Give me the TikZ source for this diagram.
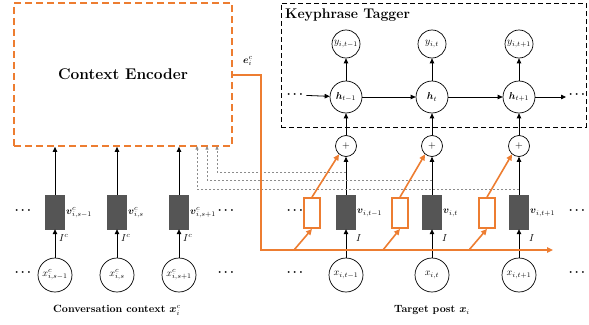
\documentclass[tikz,border=0pt]{standalone}
\usepackage{amsmath,amssymb}
\usetikzlibrary{arrows.meta}
\definecolor{ora}{RGB}{237,125,49}
\definecolor{dk}{RGB}{85,85,85}
\definecolor{gd}{RGB}{140,140,140}
\begin{document}
\begin{tikzpicture}[x=1pt,y=-1pt,
  circ/.style={circle,draw,line width=0.7pt,minimum size=28pt,inner sep=0pt,font=\normalsize},
  hcirc/.style={circ,minimum size=32pt},
  xcirc/.style={circ,minimum size=34pt},
  plus/.style={circle,draw,line width=0.7pt,minimum size=21pt,inner sep=0pt},
  vbox/.style={fill=dk,draw=dk,minimum width=19pt,minimum height=34pt,inner sep=0pt},
  obox/.style={draw=ora,line width=1.8pt,fill=white,minimum width=16pt,minimum height=30pt,inner sep=0pt},
  arr/.style={-{Triangle[length=5pt,width=4.5pt]},line width=0.8pt},
  oarr/.style={draw=ora,line width=1.6pt,-{Triangle[length=6pt,width=5.5pt]}},
  garr/.style={draw=gd,line width=0.6pt,dash pattern=on 2.5pt off 1.5pt,-{Triangle[length=3.5pt,width=3pt]}},
  dots/.style={inner sep=1pt,font=\large},
  lab/.style={anchor=west,inner sep=1pt,font=\normalsize},
]
\path[use as bounding box] (0,0) rectangle (589,324);

% Context encoder
\node[draw=ora,line width=1.8pt,dash pattern=on 7pt off 4pt,minimum width=218pt,minimum height=143pt,inner sep=0pt,font=\fontsize{15.5}{18}\selectfont\bfseries] (ce) at (123,74.5) {Context Encoder};
\node[inner sep=1pt] (el) at (248,61) {$\boldsymbol{e}_i^c$};

% Keyphrase tagger
\node[draw,line width=0.9pt,dash pattern=on 5pt off 3pt,minimum width=305pt,minimum height=124pt,inner sep=0pt] (kt) at (433.5,65) {};
\node[anchor=west,inner sep=0pt,font=\fontsize{14}{16}\selectfont\bfseries] (ktl) at (285,15) {Keyphrase Tagger};

% Right columns
\node[circ] (y1) at (346,44) {$y_{i,t-1}$};
\node[circ] (y2) at (432,44) {$y_{i,t}$};
\node[circ] (y3) at (519,44) {$y_{i,t+1}$};
\node[hcirc] (h1) at (346,97) {$\boldsymbol{h}_{t-1}$};
\node[hcirc] (h2) at (432,97) {$\boldsymbol{h}_{t}$};
\node[hcirc] (h3) at (519,97) {$\boldsymbol{h}_{t+1}$};
\node[dots] (hl) at (296,95) {$\boldsymbol{\cdots}$};
\node[dots] (hr) at (578,95) {$\boldsymbol{\cdots}$};
\coordinate (hre) at (566,97);

\node[plus] (p1) at (346,146) {$+$};
\node[plus] (p2) at (432,146) {$+$};
\node[plus] (p3) at (519,146) {$+$};

\node[vbox] (v1) at (346,212) {};
\node[vbox] (v2) at (432,212) {};
\node[vbox] (v3) at (519,212) {};
\node[obox] (o1) at (312,213) {};
\node[obox] (o2) at (400,213) {};
\node[obox] (o3) at (487,213) {};
\node[lab] at (356,213) {$\boldsymbol{v}_{i,t-1}$};
\node[lab] at (442,213) {$\boldsymbol{v}_{i,t}$};
\node[lab] at (529,213) {$\boldsymbol{v}_{i,t+1}$};
\node[lab] at (355,238) {$I$};
\node[lab] at (441,238) {$I$};
\node[lab] at (528,238) {$I$};

\node[xcirc] (x1) at (346,275) {$x_{i,t-1}$};
\node[xcirc] (x2) at (432,275) {$x_{i,t}$};
\node[xcirc] (x3) at (519,275) {$x_{i,t+1}$};

\node[dots] at (296,211) {$\boldsymbol{\cdots}$};
\node[dots] at (578,211) {$\boldsymbol{\cdots}$};
\node[dots] at (296,273) {$\boldsymbol{\cdots}$};
\node[dots] at (578,273) {$\boldsymbol{\cdots}$};

% Left columns
\node[vbox] (c1) at (55,212) {};
\node[vbox] (c2) at (117,212) {};
\node[vbox] (c3) at (179,212) {};
\node[lab] at (65,213) {$\boldsymbol{v}^c_{i,s-1}$};
\node[lab] at (127,213) {$\boldsymbol{v}^c_{i,s}$};
\node[lab] at (189,213) {$\boldsymbol{v}^c_{i,s+1}$};
\node[lab] at (58,238) {$I^c$};
\node[lab] at (120,238) {$I^c$};
\node[lab] at (182,238) {$I^c$};
\node[xcirc] (xc1) at (55,275) {$x^c_{i,s-1}$};
\node[xcirc] (xc2) at (117,275) {$x^c_{i,s}$};
\node[xcirc] (xc3) at (179,275) {$x^c_{i,s+1}$};
\node[dots] at (24,211) {$\boldsymbol{\cdots}$};
\node[dots] at (227,211) {$\boldsymbol{\cdots}$};
\node[dots] at (24,273) {$\boldsymbol{\cdots}$};
\node[dots] at (227,273) {$\boldsymbol{\cdots}$};

% Captions
\node[font=\fontsize{10.5}{12}\selectfont\bfseries] (cap1) at (117,310) {Conversation context $\boldsymbol{x}_i^c$};
\node[font=\fontsize{10.5}{12}\selectfont\bfseries] (cap2) at (432,310) {Target post $\boldsymbol{x}_i$};

% Tagger connectors
\draw[arr] (hl) -- (h1);
\draw[arr] (h1) -- (h2);
\draw[arr] (h2) -- (h3);
\draw[arr] (h3) -- (hre);
\foreach \i in {1,2,3}{
  \draw[arr] (h\i) -- (y\i);
  \draw[arr] (p\i) -- (h\i);
  \draw[arr] (v\i) -- (p\i);
  \draw[arr] (x\i) -- (v\i);
  \draw[arr] (xc\i) -- (c\i);
  \draw[arr] (c\i.north) -- (c\i.north |- ce.south);
}

% Gray dashed feedback
\coordinate (g1) at (346,172);
\coordinate (g2) at (432,180);
\coordinate (g3) at (519,189);
\draw[garr] (g1) -| (217,146);
\draw[garr] (g2) -| (207,146);
\draw[garr] (g3) -| (197,146);

% Orange context line
\coordinate (oc) at (261,250);
\coordinate (oe) at (553,250);
\draw[oarr] (ce.east |- 0,75) -| (oc) -- (oe);
\coordinate (s1) at (294,250);
\coordinate (s2) at (383,250);
\coordinate (s3) at (469,250);
\foreach \i in {1,2,3}{
  \draw[oarr] (s\i) -- (o\i.south);
  \draw[oarr] (o\i.north) -- (p\i.230);
}
\end{tikzpicture}
\end{document}
